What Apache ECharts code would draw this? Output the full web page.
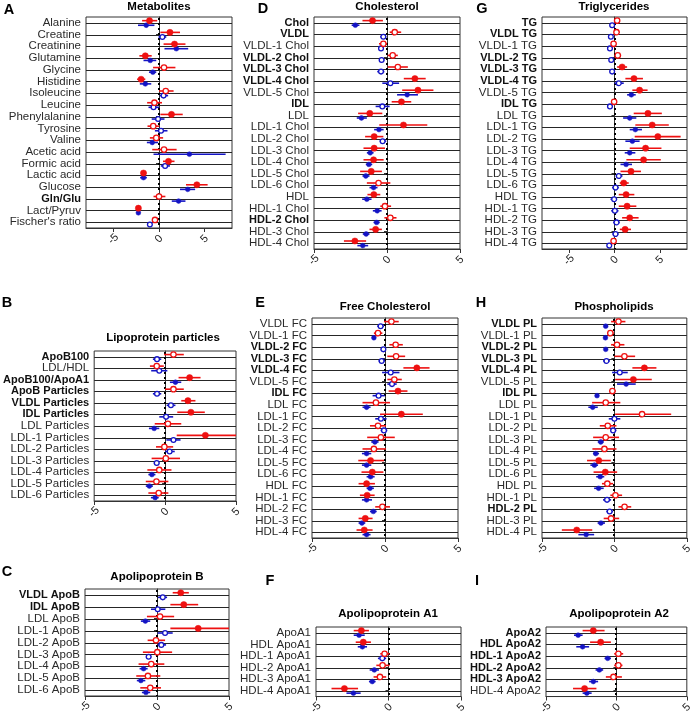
<!DOCTYPE html>
<html><head><meta charset="utf-8">
<script src="https://cdn.jsdelivr.net/npm/echarts@6/dist/echarts.min.js"></script>
<style>html,body{margin:0;padding:0;background:#fff}#c{width:695px;height:717px}</style>
</head><body><div id="c"></div>
<script>
// ---- DATA: each row = [estimate, ciLow, ciHigh, significant(1=filled)] ----
const metabolitesLabels = ["Alanine","Creatine","Creatinine","Glutamine","Glycine","Histidine","Isoleucine","Leucine","Phenylalanine","Tyrosine","Valine","Acetic acid","Formic acid","Lactic acid","Glucose","Gln/Glu","Lact/Pyruv","Fischer's ratio"];
const metabolitesBold = [0,0,0,0,0,0,0,0,0,0,0,0,0,0,0,1,0,0];
const metabolitesRed = [[-1.04,-1.85,-0.2,1],[1.2,0.15,2.3,1],[1.7,0.5,2.9,1],[-1.5,-2.15,-0.8,1],[0.55,-0.65,1.8,0],[-1.96,-2.4,-1.5,1],[0.74,0,1.6,0],[-0.5,-1.3,0.33,0],[1.37,0.15,2.6,1],[-0.63,-1.26,0,0],[-0.3,-1.0,0.45,0],[0.55,-0.74,1.93,0],[1.04,0.44,1.7,1],[-1.7,-1.85,-1.4,1],[4.15,2.96,5.33,1],[0,-0.6,0.7,0],[-2.26,-2.44,-2.07,1],[-0.44,-0.67,-0.22,0]];
const metabolitesBlue = [[-1.4,-2.3,-0.5,1],[0.37,-0.05,0.8,0],[1.9,0.6,3.2,1],[-0.96,-1.7,-0.3,1],[-0.67,-1.1,-0.3,1],[-1.5,-2.1,-0.85,1],[0.5,0.07,1.0,0],[-0.6,-1.15,0,0],[-0.1,-0.8,0.6,0],[0.22,-0.45,0.93,0],[-0.74,-1.33,-0.1,1],[3.33,-0.6,7.3,1],[0.67,0.2,1.2,0],[-1.7,-2.07,-1.33,1],[3.15,2.3,3.96,1],[2.15,1.4,2.9,1],[-2.26,-2.44,-2.07,1],[-1.0,-1.3,-0.74,0]];

const cholLabels = ["Chol","VLDL","VLDL-1 Chol","VLDL-2 Chol","VLDL-3 Chol","VLDL-4 Chol","VLDL-5 Chol","IDL","LDL","LDL-1 Chol","LDL-2 Chol","LDL-3 Chol","LDL-4 Chol","LDL-5 Chol","LDL-6 Chol","HDL","HDL-1 Chol","HDL-2 Chol","HDL-3 Chol","HDL-4 Chol"];
const cholBold = [1,1,0,1,1,1,0,1,0,0,0,0,0,0,0,0,0,1,0,0];
const cholRed = [[-0.99,-1.68,-0.28,1],[0.53,0.18,0.97,0],[-0.25,-0.55,0,0],[0.39,0.05,0.74,0],[0.74,0.05,1.43,0],[1.91,1.15,2.65,1],[2.12,1.04,3.18,1],[0.99,0.32,1.66,1],[-1.18,-1.98,-0.32,1],[1.13,-0.53,2.76,1],[-0.88,-1.5,-0.25,1],[-0.88,-1.61,-0.14,1],[-0.92,-1.61,-0.23,1],[-1.08,-1.84,-0.35,1],[-0.58,-1.38,0.23,0],[-0.9,-1.34,-0.46,1],[-0.14,-0.46,0.28,0],[0.23,-0.18,0.65,0],[-0.78,-1.2,-0.35,1],[-2.2,-2.95,-1.43,1]];
const cholBlue = [[-2.17,-2.42,-1.89,1],[-0.25,-0.46,-0.05,0],[-0.41,-0.58,-0.23,0],[-0.37,-0.53,-0.18,0],[-0.41,-0.67,-0.18,0],[0.23,-0.32,0.83,0],[1.38,0.69,2.12,1],[-0.32,-0.78,0.18,0],[-1.75,-2.07,-1.38,1],[-0.55,-0.88,-0.23,1],[-0.3,-0.5,-0.05,0],[-1.15,-1.38,-0.92,1],[-1.24,-1.45,-1.01,1],[-1.45,-1.68,-1.2,1],[-0.92,-1.2,-0.65,1],[-1.38,-1.7,-1.06,1],[-0.67,-0.97,-0.37,1],[-0.71,-0.92,-0.5,1],[-1.43,-1.66,-1.2,1],[-1.66,-2.03,-1.29,1]];

const tgLabels = ["TG","VLDL TG","VLDL-1 TG","VLDL-2 TG","VLDL-3 TG","VLDL-4 TG","VLDL-5 TG","IDL TG","LDL TG","LDL-1 TG","LDL-2 TG","LDL-3 TG","LDL-4 TG","LDL-5 TG","LDL-6 TG","HDL TG","HDL-1 TG","HDL-2 TG","HDL-3 TG","HDL-4 TG"];
const tgBold = [1,1,0,1,1,1,0,1,0,0,0,0,0,0,0,0,0,0,0,0];
const tgRed = [[0.29,0.07,0.5,0],[0.22,-0.07,0.58,0],[-0.1,-0.33,0.12,0],[0.36,0.07,0.73,0],[0.84,0.29,1.39,1],[2.15,1.2,3.14,1],[2.77,1.97,3.65,1],[-0.04,-0.26,0.15,0],[3.69,2.12,5.22,1],[4.16,2.3,5.99,1],[4.78,2.23,7.3,1],[3.43,1.68,5.18,1],[3.21,1.31,5.11,1],[1.82,0.66,2.92,1],[1.02,0.58,1.57,1],[1.28,0.47,2.19,1],[1.39,0.47,2.41,1],[1.68,0.84,2.66,1],[1.17,0.58,1.82,1],[-0.1,-0.36,0.15,0]];
const tgBlue = [[-0.26,-0.44,-0.07,0],[-0.4,-0.58,-0.22,0],[-0.5,-0.69,-0.33,0],[-0.36,-0.55,-0.18,0],[-0.26,-0.47,-0.04,0],[0.47,0,1.02,0],[1.86,1.39,2.34,1],[-0.5,-0.66,-0.36,0],[1.68,0.95,2.41,1],[2.3,1.68,3.03,1],[1.97,1.2,2.77,1],[1.68,1.13,2.3,1],[1.28,0.66,1.93,1],[0.47,0.15,0.88,0],[0.11,-0.26,0.47,0],[-0.04,-0.44,0.29,0],[0.04,-0.36,0.44,0],[0.22,-0.15,0.58,0],[0.11,-0.22,0.44,0],[-0.58,-0.8,-0.36,0]];

const lpLabels = ["ApoB100","LDL/HDL","ApoB100/ApoA1","ApoB Particles","VLDL Particles","IDL Particles","LDL Particles","LDL-1 Particles","LDL-2 Particles","LDL-3 Particles","LDL-4 Particles","LDL-5 Particles","LDL-6 Particles"];
const lpBold = [1,0,1,1,1,1,0,0,0,0,0,0,0];
const lpRed = [[0.59,-0.07,1.32,0],[-0.59,-1.07,-0.09,0],[1.73,0.95,2.5,1],[0.59,0,1.32,0],[1.61,1.14,2.14,1],[1.82,0.86,2.8,1],[0.2,-0.73,1.14,0],[2.84,0.82,5.5,1],[-0.05,-0.64,0.57,0],[0.05,-0.95,1.05,0],[-0.41,-1.25,0.45,0],[-0.61,-1.36,0.23,0],[-0.45,-1.18,0.23,0]];
const lpBlue = [[-0.57,-0.86,-0.27,0],[-0.41,-0.98,0.16,0],[0.73,0.34,1.14,1],[-0.57,-0.86,-0.27,0],[0.41,0.11,0.73,0],[0.07,-0.41,0.57,0],[-0.77,-1.14,-0.41,1],[0.59,0.09,1.09,0],[0.32,0,0.68,0],[-0.59,-0.8,-0.41,0],[-0.93,-1.18,-0.68,1],[-1.11,-1.36,-0.86,1],[-0.7,-1.0,-0.45,1]];

const fcLabels = ["VLDL FC","VLDL-1 FC","VLDL-2 FC","VLDL-3 FC","VLDL-4 FC","VLDL-5 FC","IDL FC","LDL FC","LDL-1 FC","LDL-2 FC","LDL-3 FC","LDL-4 FC","LDL-5 FC","LDL-6 FC","HDL FC","HDL-1 FC","HDL-2 FC","HDL-3 FC","HDL-4 FC"];
const fcBold = [0,0,1,1,1,0,1,0,0,0,0,0,0,0,0,0,0,0,0];
const fcRed = [[0.44,-0.07,0.94,0],[-0.48,-0.76,-0.18,0],[0.73,0.3,1.22,0],[0.76,0.16,1.38,0],[2.18,1.26,3.05,1],[0.64,0.16,1.15,0],[0.89,0.25,1.54,1],[-0.62,-1.54,0.34,0],[1.12,-0.34,2.59,1],[-0.48,-1.03,0.07,0],[-0.28,-1.22,0.67,0],[-0.76,-1.54,0.07,0],[-0.99,-1.83,-0.07,1],[-0.87,-1.61,-0.11,1],[-1.26,-1.81,-0.69,1],[-1.22,-1.72,-0.71,1],[-0.18,-0.67,0.34,0],[-1.35,-1.81,-0.85,1],[-1.42,-1.95,-0.85,1]];
const fcBlue = [[-0.3,-0.53,-0.07,0],[-0.76,-0.9,-0.62,1],[-0.11,-0.3,0.07,0],[-0.23,-0.44,0,0],[0.39,-0.2,0.99,0],[0.48,0.16,0.8,0],[-0.44,-0.85,-0.02,0],[-1.26,-1.54,-0.99,1],[-0.28,-0.67,0.11,0],[-0.07,-0.3,0.16,0],[-0.69,-0.94,-0.44,1],[-1.26,-1.58,-0.94,1],[-1.26,-1.58,-0.94,1],[-0.99,-1.26,-0.71,1],[-1.03,-1.26,-0.76,1],[-1.26,-1.58,-0.89,1],[-0.8,-1.03,-0.57,1],[-1.58,-1.81,-1.35,1],[-1.26,-1.54,-0.99,1]];

const plLabels = ["VLDL PL","VLDL-1 PL","VLDL-2 PL","VLDL-3 PL","VLDL-4 PL","VLDL-5 PL","IDL PL","LDL PL","LDL-1 PL","LDL-2 PL","LDL-3 PL","LDL-4 PL","LDL-5 PL","LDL-6 PL","HDL PL","HDL-1 PL","HDL-2 PL","HDL-3 PL","HDL-4 PL"];
const plBold = [1,0,1,1,1,0,1,0,0,0,0,0,0,0,0,0,1,0,0];
const plRed = [[0.28,-0.23,0.76,0],[-0.28,-0.51,-0.05,0],[0.18,-0.23,0.69,0],[0.69,0,1.43,0],[2.07,1.24,2.9,1],[1.31,0.05,2.58,1],[-0.14,-0.37,0.09,0],[-0.6,-1.54,0.41,0],[1.91,0.05,3.92,0],[-0.46,-1.01,0.14,0],[-0.6,-1.47,0.32,0],[-0.69,-1.52,0.14,0],[-1.08,-1.89,-0.25,1],[-0.63,-1.44,0.19,1],[-0.49,-0.86,-0.09,0],[0.07,-0.28,0.53,0],[0.7,0.28,1.16,0],[-0.23,-0.74,0.33,0],[-2.6,-3.63,-1.53,1]];
const plBlue = [[-0.6,-0.74,-0.44,1],[-0.62,-0.74,-0.51,1],[-0.6,-0.72,-0.49,1],[-0.55,-0.78,-0.32,0],[0.37,-0.16,0.92,0],[0.81,0.18,1.47,1],[-1.2,-1.33,-1.06,1],[-1.5,-1.8,-1.15,1],[0,-0.39,0.41,0],[-0.09,-0.28,0.14,0],[-0.94,-1.15,-0.74,1],[-1.29,-1.47,-1.06,1],[-1.38,-1.66,-1.13,1],[-0.98,-1.26,-0.7,1],[-1.09,-1.4,-0.74,1],[-0.51,-0.79,-0.23,0],[-0.33,-0.56,-0.09,0],[-0.93,-1.16,-0.65,1],[-1.95,-2.49,-1.4,1]];

const apobLabels = ["VLDL ApoB","IDL ApoB","LDL ApoB","LDL-1 ApoB","LDL-2 ApoB","LDL-3 ApoB","LDL-4 ApoB","LDL-5 ApoB","LDL-6 ApoB"];
const apobBold = [1,1,0,0,0,0,0,0,0];
const apobRed = [[1.65,1.09,2.21,1],[1.86,0.93,2.86,1],[0.21,-0.7,1.19,0],[2.86,0.93,5.2,1],[-0.07,-0.65,0.56,0],[0.02,-0.98,1.05,0],[-0.4,-1.28,0.51,0],[-0.63,-1.44,0.23,0],[-0.47,-1.16,0.28,0]];
const apobBlue = [[0.4,0.07,0.7,0],[0.05,-0.42,0.58,0],[-0.81,-1.12,-0.47,1],[0.56,0.05,1.09,0],[0.3,0.05,0.63,0],[-0.58,-0.77,-0.4,0],[-0.93,-1.21,-0.65,1],[-1.12,-1.4,-0.81,1],[-0.77,-1.05,-0.47,1]];

const apoa1Labels = ["ApoA1","HDL ApoA1","HDL-1 ApoA1","HDL-2 ApoA1","HDL-3 ApoA1","HDL-4 ApoA1"];
const apoa1Bold = [0,0,0,0,0,0];
const apoa1Red = [[-1.87,-2.4,-1.35,1],[-1.74,-2.26,-1.21,1],[-0.27,-0.57,0.07,0],[-0.41,-0.84,0.07,0],[-0.59,-1.03,-0.16,0],[-3.04,-3.93,-2.1,1]];
const apoa1Blue = [[-2.03,-2.4,-1.64,1],[-1.8,-2.12,-1.48,1],[-0.43,-0.73,-0.16,0],[-0.98,-1.3,-0.66,1],[-1.12,-1.35,-0.89,1],[-2.42,-2.9,-1.92,1]];

const apoa2Labels = ["ApoA2","HDL ApoA2","HDL-1 ApoA2","HDL-2 ApoA2","HDL-3 ApoA2","HDL-4 ApoA2"];
const apoa2Bold = [1,1,1,1,1,0];
const apoa2Red = [[-1.64,-2.4,-0.84,1],[-1.12,-1.87,-0.39,1],[0.14,-0.16,0.48,0],[0.14,-0.16,0.43,0],[-0.21,-0.75,0.39,0],[-2.26,-3.08,-1.42,1]];
const apoa2Blue = [[-2.72,-3.01,-2.4,1],[-2.4,-2.85,-1.94,1],[-0.62,-0.84,-0.39,1],[-1.21,-1.48,-0.94,1],[-1.64,-1.94,-1.3,1],[-2.1,-2.4,-1.76,1]];

const tickValues = [-5, 0, 5];

// ---- LAYOUT ----
const panels = [
  {letter:'A', title:'Metabolites', labels:metabolitesLabels, bold:metabolitesBold, red:metabolitesRed, blue:metabolitesBlue, min:-8, max:8, grid:{left:86, top:17, width:146, height:211}, lp:[9,10], tp:[159,7]},
  {letter:'D', title:'Cholesterol', labels:cholLabels, bold:cholBold, red:cholRed, blue:cholBlue, min:-5, max:5, grid:{left:314, top:17, width:146, height:232}, lp:[263,9], tp:[387,7]},
  {letter:'G', title:'Triglycerides', labels:tgLabels, bold:tgBold, red:tgRed, blue:tgBlue, min:-8, max:8, grid:{left:542, top:17, width:145, height:232}, lp:[482,9], tp:[614,7]},
  {letter:'B', title:'Lipoprotein particles', labels:lpLabels, bold:lpBold, red:lpRed, blue:lpBlue, min:-5, max:5, grid:{left:90, top:351, width:146, height:150}, lp:[7,303], tp:[163,338]},
  {letter:'E', title:'Free Cholesterol', labels:fcLabels, bold:fcBold, red:fcRed, blue:fcBlue, min:-5, max:5, grid:{left:312, top:318, width:146, height:220}, lp:[260,303], tp:[385,307]},
  {letter:'H', title:'Phospholipids', labels:plLabels, bold:plBold, red:plRed, blue:plBlue, min:-5, max:5, grid:{left:542, top:318, width:146, height:220}, lp:[481,303], tp:[614,307]},
  {letter:'C', title:'Apolipoprotein B', labels:apobLabels, bold:apobBold, red:apobRed, blue:apobBlue, min:-5, max:5, grid:{left:85, top:589, width:144, height:107}, lp:[7,572], tp:[157,577]},
  {letter:'F', title:'Apolipoprotein A1', labels:apoa1Labels, bold:apoa1Bold, red:apoa1Red, blue:apoa1Blue, min:-5, max:5, grid:{left:316, top:627, width:145, height:70}, lp:[270,581], tp:[388,614]},
  {letter:'I', title:'Apolipoprotein A2', labels:apoa2Labels, bold:apoa2Bold, red:apoa2Red, blue:apoa2Blue, min:-5, max:5, grid:{left:546, top:627, width:145, height:70}, lp:[477,581], tp:[619,614]}
];

const RED = '#ee1111', BLUE = '#1414c4';
const FONT = 'Liberation Sans, Arial, sans-serif';

function markRenderer(color, dy, rFill, rOpen) {
  return function (params, api) {
    const cs = params.coordSys;
    const row = api.value(0);
    const est = api.coord([api.value(1), row]);
    const lo = api.coord([api.value(2), row]);
    const hi = api.coord([api.value(3), row]);
    const filled = api.value(4) === 1;
    const y = est[1] + dy;
    const x1 = Math.max(cs.x, lo[0]), x2 = Math.min(cs.x + cs.width, hi[0]);
    return {
      type: 'group',
      children: [
        {type: 'line', shape: {x1: x1, y1: y, x2: x2, y2: y}, style: {stroke: color, lineWidth: 1.6}},
        {type: 'circle', shape: {cx: est[0], cy: y, r: filled ? rFill : rOpen},
          style: filled ? {fill: color, stroke: color, lineWidth: 0.5} : {fill: '#fff', stroke: color, lineWidth: 1.3}}
      ]
    };
  };
}

function rowLineRenderer(params, api) {
  const cs = params.coordSys;
  const p = api.coord([0, api.value(0)]);
  const y = Math.round(p[1]) + 0.5;
  return {type: 'line', shape: {x1: cs.x, y1: y, x2: cs.x + cs.width, y2: y}, style: {stroke: '#262626', lineWidth: 1.1}};
}

function zeroLineRenderer(params, api) {
  const cs = params.coordSys;
  const p = api.coord([0, 0]);
  const x = Math.round(p[0]);
  return {type: 'line', shape: {x1: x, y1: cs.y + 1, x2: x, y2: cs.y + cs.height},
    style: {stroke: '#000', lineWidth: 2, lineDash: [2, 3]}};
}

const grids = [], xAxes = [], yAxes = [], series = [], graphics = [];
panels.forEach((P, i) => {
  grids.push(Object.assign({show: true, borderColor: '#333', borderWidth: 1, containLabel: false}, P.grid));
  xAxes.push({
    type: 'value', gridIndex: i, min: P.min, max: P.max, splitLine: {show: false},
    axisLine: {show: true, onZero: false, lineStyle: {color: '#333'}},
    axisTick: {show: true, customValues: tickValues, length: 4, lineStyle: {color: '#333'}},
    axisLabel: {customValues: tickValues, rotate: 45, fontSize: 11, color: '#222', fontFamily: FONT, margin: 11, align: 'center', verticalAlign: 'middle'}
  });
  yAxes.push({
    type: 'category', gridIndex: i, inverse: true, data: P.labels, boundaryGap: true,
    axisLine: {show: true, lineStyle: {color: '#333'}},
    axisTick: {show: true, alignWithLabel: true, length: 3, lineStyle: {color: '#333'}},
    splitLine: {show: false},
    axisLabel: {
      interval: 0, margin: 5, color: '#1a1a1a', fontFamily: FONT, fontSize: 11.5,
      formatter: (v, idx) => (P.bold[idx] ? '{b|' + v + '}' : '{n|' + v + '}'),
      rich: {b: {fontWeight: 'bold', fontSize: 11, fontFamily: FONT, color: '#111'}, n: {fontSize: 11.5, fontFamily: FONT, color: '#2a2a2a'}}
    }
  });
  series.push({type: 'custom', xAxisIndex: i, yAxisIndex: i, silent: true, z: 1,
    data: P.labels.map((_, k) => [k]), encode: {y: 0}, renderItem: rowLineRenderer});
  series.push({type: 'custom', xAxisIndex: i, yAxisIndex: i, silent: true, z: 2,
    data: [[0]], encode: {y: 0}, renderItem: zeroLineRenderer});
  series.push({type: 'custom', xAxisIndex: i, yAxisIndex: i, silent: true, z: 3,
    data: P.blue.map((d, k) => [k, d[0], d[1], d[2], d[3]]), encode: {y: 0, x: [1, 2, 3]},
    renderItem: markRenderer(BLUE, 2.4, 2.4, 2.4)});
  series.push({type: 'custom', xAxisIndex: i, yAxisIndex: i, silent: true, z: 4,
    data: P.red.map((d, k) => [k, d[0], d[1], d[2], d[3]]), encode: {y: 0, x: [1, 2, 3]},
    renderItem: markRenderer(RED, -2.2, 3.1, 2.7)});
  graphics.push({type: 'text', x: P.lp[0], y: P.lp[1],
    style: {text: P.letter, font: 'bold 14.5px ' + FONT, fill: '#000', textAlign: 'center', textVerticalAlign: 'middle'}});
  graphics.push({type: 'text', x: P.tp[0], y: P.tp[1],
    style: {text: P.title, font: 'bold 11.5px ' + FONT, fill: '#000', textAlign: 'center', textVerticalAlign: 'middle'}});
});

const chart = echarts.init(document.getElementById('c'), null, {renderer: 'canvas'});
chart.setOption({
  animation: false, backgroundColor: '#fff',
  grid: grids, xAxis: xAxes, yAxis: yAxes, series: series, graphic: graphics
});
</script></body></html>
